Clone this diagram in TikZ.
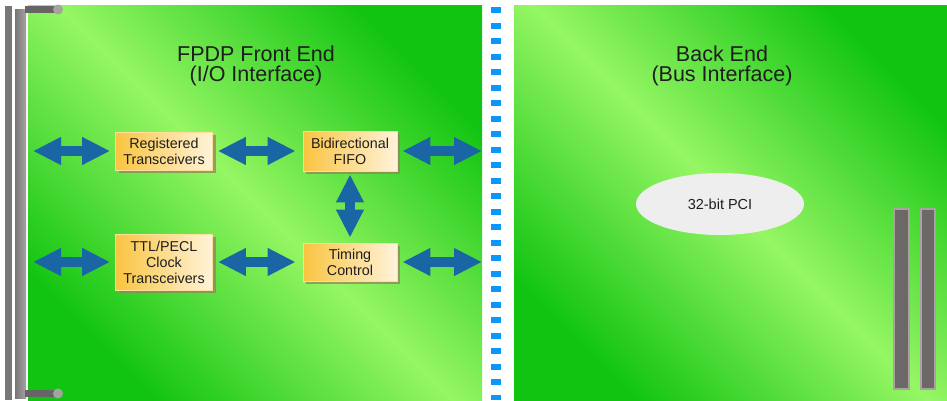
\documentclass[tikz,border=0pt]{standalone}
\usepackage{fontspec}
\setmainfont{Liberation Sans}
\usetikzlibrary{arrows.meta,shadows,shapes.geometric}
\definecolor{gdark}{RGB}{18,196,18}
\definecolor{glight}{RGB}{150,246,100}
\definecolor{boxL}{RGB}{249,196,64}
\definecolor{boxR}{RGB}{255,243,218}
\definecolor{shadowc}{RGB}{150,130,90}
\definecolor{arrowblue}{RGB}{26,102,164}
\definecolor{dashblue}{RGB}{12,150,250}
\definecolor{railgray}{RGB}{120,118,118}
\definecolor{raillight}{RGB}{165,162,162}
\definecolor{conngray}{RGB}{108,104,104}
\definecolor{connedge}{RGB}{170,162,162}
\definecolor{ellgray}{RGB}{238,238,238}
\definecolor{txt}{RGB}{30,30,30}
\tikzset{
  panel/.style={left color=gdark, right color=gdark, middle color=glight, shading angle=135},
  blk/.style={left color=boxL, right color=boxR, draw=boxR!60!boxL, line width=0.8pt,
    drop shadow={shadow xshift=3pt, shadow yshift=-3pt, fill=shadowc, opacity=.75},
    font=\fontsize{14.3}{16}\selectfont, text=txt, align=center, inner sep=0pt},
  dbl/.style={arrowblue, line width=10pt,
    {Triangle[length=28pt,width=26pt]}-{Triangle[length=28pt,width=26pt]}},
  title/.style={font=\fontsize{21.5}{20.5}\selectfont, text=txt, align=center},
  conn/.style={fill=conngray, draw=connedge, line width=2pt}
}
\begin{document}
\begin{tikzpicture}[x=1pt,y=-1pt]
\useasboundingbox (0,0) rectangle (947,400);
% panels
\shade[panel] (28,5) rectangle (482,400);
\shade[panel] (514,5) rectangle (947,400);
% divider
\draw[dashblue, line width=10pt, dash pattern=on 6pt off 9.5pt] (496,7) -- (496,400);
% left rail
\fill[railgray] (5,6) rectangle (12,400);
\fill[left color=railgray, right color=raillight] (15,9) rectangle (26,398);
\fill[railgray!85!black] (25,6) rectangle (58,13);
\fill[raillight] (58,9.5) circle (5);
\fill[railgray!85!black] (25,390) rectangle (58,397);
\fill[raillight] (58,393.5) circle (5);
% right connectors
\draw[conn] (894,209) rectangle (909,389);
\draw[conn] (921,209) rectangle (935,389);
% titles
\node[title] (t1) at (256,66) {FPDP Front End\\(I/O Interface)};
\node[title] (t2) at (722,66) {Back End\\(Bus Interface)};
% blocks
\node[blk, minimum width=97pt, minimum height=38pt] (reg) at (164,151) {Registered\\Transceivers};
\node[blk, minimum width=94pt, minimum height=40pt] (fifo) at (350,151) {Bidirectional\\FIFO};
\node[blk, minimum width=97pt, minimum height=56pt] (ttl) at (164,262) {TTL/PECL\\Clock\\Transceivers};
\node[blk, minimum width=94pt, minimum height=38pt] (timing) at (350,262) {Timing\\Control};
\node[ellipse, fill=ellgray, minimum width=168pt, minimum height=62pt, inner sep=0pt,
  font=\fontsize{14.5}{16}\selectfont, text=txt] (pci) at (720,204) {32-bit PCI};
% free ends
\coordinate (l1) at (33,151);
\coordinate (r1) at (482,151);
\coordinate (l2) at (33,262);
\coordinate (r2) at (482,262);
% arrows
\draw[dbl, shorten >=5pt] (l1) -- (reg.west);
\draw[dbl, shorten <=5pt, shorten >=7pt] (reg.east) -- (fifo.west);
\draw[dbl, shorten <=5pt] (fifo.east) -- (r1);
\draw[dbl, shorten >=5pt] (l2) -- (ttl.west);
\draw[dbl, shorten <=5pt, shorten >=7pt] (ttl.east) -- (timing.west);
\draw[dbl, shorten <=5pt] (timing.east) -- (r2);
\draw[dbl, shorten <=3pt, shorten >=5pt] (fifo.south) -- (timing.north);
\end{tikzpicture}
\end{document}
